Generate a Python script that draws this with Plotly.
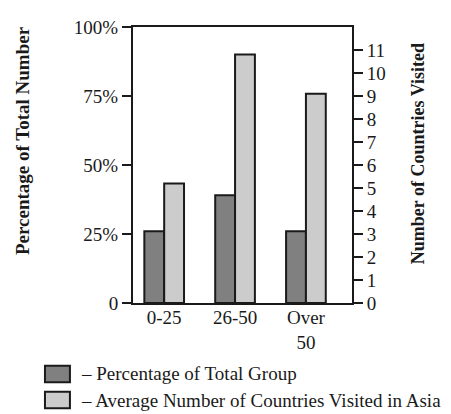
import plotly.graph_objects as go

age_groups = ["0-25", "26-50", "Over<br>50"]
pct_of_group = [26, 39, 26]
avg_countries = [5.2, 10.8, 9.1]

pct_ticks = [0, 25, 50, 75, 100]
pct_labels = ["0", "25%", "50%", "75%", "100%"]
country_ticks = list(range(0, 12))

serif = "Liberation Serif, Times New Roman, serif"

fig = go.Figure()
fig.add_trace(go.Bar(
    x=age_groups, y=pct_of_group, name="Percentage of Total Group",
    width=0.28, offset=-0.28,
    marker=dict(color="#808080", line=dict(color="#1a1a1a", width=2)),
    yaxis="y",
))
fig.add_trace(go.Bar(
    x=age_groups, y=avg_countries, name="Average Number of Countries Visited in Asia",
    width=0.28, offset=0,
    marker=dict(color="#cccccc", line=dict(color="#1a1a1a", width=2)),
    yaxis="y2",
))

# page body has an 8px margin, so the figure is a bit smaller and shifted
fig.update_layout(
    width=443,
    height=406,
    margin=dict(l=125, r=99, t=9, b=111),
    paper_bgcolor="white",
    plot_bgcolor="white",
    showlegend=False,
    font=dict(family=serif, size=19, color="#1a1a1a"),
    xaxis=dict(
        type="category", range=[-0.44, 2.65],
        showline=True, linecolor="#1a1a1a", linewidth=2, mirror=True,
        ticks="", showgrid=False, tickfont=dict(size=19),
        ticklabelstandoff=-4,
    ),
    yaxis=dict(
        range=[0, 100], tickvals=pct_ticks, ticktext=pct_labels,
        showline=True, linecolor="#1a1a1a", linewidth=2,
        ticks="outside", ticklen=9, tickwidth=2, tickcolor="#1a1a1a",
        showgrid=False, zeroline=False, tickfont=dict(size=19),
    ),
    yaxis2=dict(
        range=[0, 12], tickvals=country_ticks, overlaying="y", side="right",
        showline=True, linecolor="#1a1a1a", linewidth=2,
        ticks="outside", ticklen=9, tickwidth=2, tickcolor="#1a1a1a",
        showgrid=False, zeroline=False, tickfont=dict(size=19),
    ),
)

# axis titles
fig.add_annotation(text="<b>Percentage of Total Number</b>", textangle=-90,
                   xref="paper", yref="paper", x=-0.502, y=0.587,
                   xanchor="center", yanchor="middle",
                   showarrow=False, font=dict(size=19))
fig.add_annotation(text="<b>Number of Countries Visited</b>", textangle=-90,
                   xref="paper", yref="paper", x=1.299, y=0.541,
                   xanchor="center", yanchor="middle",
                   showarrow=False, font=dict(size=18))

# legend drawn below the chart
legend_items = [("#808080", "– Percentage of Total Group", -0.227, -0.287),
                ("#cccccc", "– Average Number of Countries Visited in Asia", -0.322, -0.381)]
for color, label, y0, y1 in legend_items:
    fig.add_shape(type="rect", xref="paper", yref="paper",
                  x0=-0.402, x1=-0.288, y0=y0, y1=y1,
                  fillcolor=color, line=dict(color="#1a1a1a", width=2))
    fig.add_annotation(text=label, xref="paper", yref="paper",
                       x=-0.245, y=(y0 + y1) / 2, xanchor="left", yanchor="middle",
                       showarrow=False, font=dict(size=19))

fig.write_html("out.html")
